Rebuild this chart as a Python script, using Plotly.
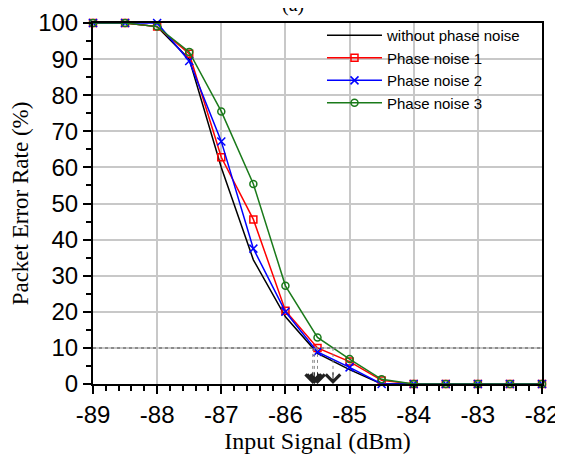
import plotly.graph_objects as go
import numpy as np

x_dbm = [-89, -88.5, -88, -87.5, -87, -86.5, -86, -85.5, -85, -84.5, -84, -83.5, -83, -82.5, -82]
per_none = [100, 100, 99, 90, 60, 34.4, 18.6, 8.5, 4.0, 0, 0, 0, 0, 0, 0]
per_pn1 = [100, 100, 99, 91.5, 62.8, 45.6, 20.3, 10.0, 6.2, 1.0, 0, 0, 0, 0, 0]
per_pn2 = [100, 100, 100, 89.5, 67.2, 37.5, 20.0, 8.9, 4.6, 0, 0, 0, 0, 0, 0]
per_pn3 = [100, 100, 99, 92, 75.5, 55.4, 27.2, 12.9, 6.9, 1.3, 0, 0, 0, 0, 0]
x_ticks = [-89, -88, -87, -86, -85, -84, -83, -82]
y_ticks = [0, 10, 20, 30, 40, 50, 60, 70, 80, 90, 100]
threshold = 10

series = [
    ("without phase noise", per_none, "#000000", None, None),
    ("Phase noise 1", per_pn1, "#ff0000", "square-open", 7),
    ("Phase noise 2", per_pn2, "#0000ff", "x-thin-open", 8),
    ("Phase noise 3", per_pn3, "#1a7a1a", "circle-open", 7),
]

fig = go.Figure()
for name, ys, col, sym, sz in series:
    if sym is None:
        fig.add_trace(go.Scatter(x=x_dbm, y=ys, name=name, mode="lines",
                                 line=dict(color=col, width=1.5), cliponaxis=False))
    else:
        fig.add_trace(go.Scatter(x=x_dbm, y=ys, name=name, mode="lines+markers",
                                 line=dict(color=col, width=1.5),
                                 marker=dict(symbol=sym, size=sz, color=col,
                                             line=dict(color=col, width=1.5)),
                                 cliponaxis=False))

# threshold line
fig.add_shape(type="line", xref="paper", x0=0, x1=1, yref="y", y0=threshold, y1=threshold,
              line=dict(color="#777777", width=1.5, dash="dot"))

# crossing markers (derived from data)
for name, ys, col, sym, sz in series:
    xs = np.array(x_dbm, dtype=float)
    yv = np.array(ys, dtype=float)
    for i in range(len(xs) - 1):
        if yv[i] >= threshold > yv[i + 1]:
            xc = xs[i] + (yv[i] - threshold) / (yv[i] - yv[i + 1]) * (xs[i + 1] - xs[i])
            fig.add_shape(type="line", x0=xc, x1=xc, y0=threshold, y1=2,
                          line=dict(color="#888888", width=1, dash="dot"))
            fig.add_annotation(x=xc, y=0, text="", showarrow=True, ax=0, ay=-13,
                               arrowhead=4, arrowsize=2.8, arrowwidth=1, arrowcolor="#222222",
                               standoff=0)
            break

fig.add_annotation(xref="paper", yref="paper", x=0.445, y=1.014, text="(a)", showarrow=False,
                   yanchor="bottom", font=dict(family="Liberation Serif", size=20, color="#000000"))

axis_common = dict(showline=True, linecolor="#000000", linewidth=2, mirror=True,
                   ticks="outside", tickcolor="#000000", tickwidth=1.5, ticklen=8,
                   showgrid=True, gridcolor="#c8c8c8", gridwidth=1.5, zeroline=False,
                   automargin=False,
                   tickfont=dict(family="Liberation Sans", size=24, color="#000000"))

fig.update_xaxes(range=[-89, -82], tickvals=x_ticks, ticktext=[str(v) for v in x_ticks],
                 title=dict(text="Input Signal (dBm)", standoff=4,
                            font=dict(family="Liberation Serif", size=24, color="#000000")),
                 minor=dict(dtick=0.2, ticks="outside", ticklen=5, tickcolor="#000000", showgrid=False),
                 **axis_common)
fig.update_yaxes(range=[0, 100], tickvals=y_ticks, ticktext=[str(v) for v in y_ticks],
                 title=dict(text="Packet Error Rate (%)", standoff=4,
                            font=dict(family="Liberation Serif", size=23, color="#000000")),
                 minor=dict(dtick=5, ticks="outside", ticklen=5, tickcolor="#000000", showgrid=False),
                 **axis_common)

fig.update_layout(
    width=555, height=446,
    margin=dict(l=85, r=21, t=14, b=70),
    paper_bgcolor="#ffffff", plot_bgcolor="#ffffff",
    showlegend=True,
    legend=dict(x=0.51, y=1.008, xanchor="left", yanchor="top", bgcolor="rgba(0,0,0,0)",
                font=dict(family="Liberation Sans", size=15, color="#000000"),
                tracegroupgap=0, itemwidth=55),
)

fig.write_html("out.html")
